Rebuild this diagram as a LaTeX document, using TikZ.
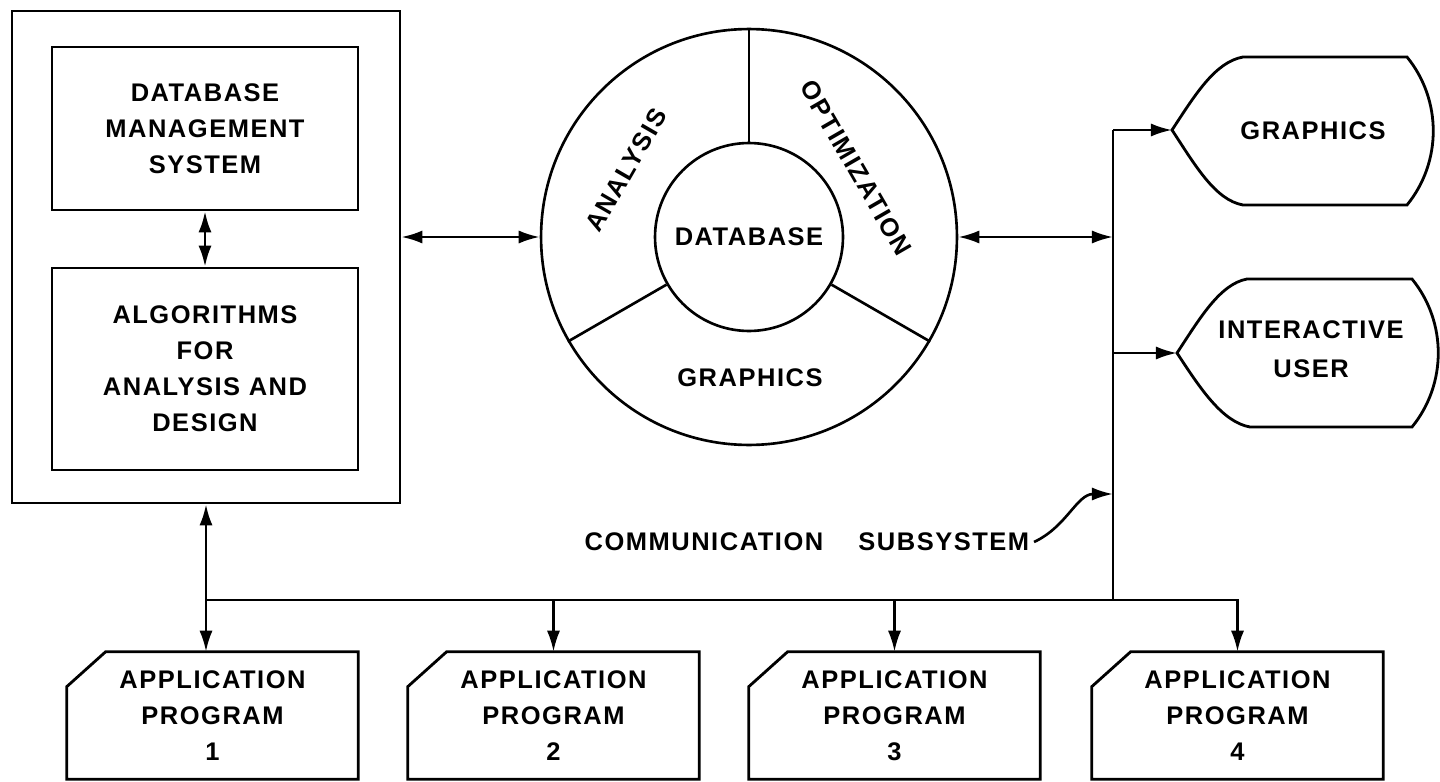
\documentclass[tikz,border=0pt]{standalone}
\usepackage{fontspec}
\setmainfont{Liberation Sans}[LetterSpace=6]
\usepackage{tikz}
\usetikzlibrary{arrows.meta}
\usetikzlibrary{shapes.misc}

\begin{document}
\begin{tikzpicture}[x = 0.02cm, y = -0.02cm, line width = 1.5pt,
    font = \fontsize{14.5pt}{20.5pt}\selectfont\bfseries,
    box/.style = {draw, line width = 1.6pt, align = center},
    app/.style = {minimum width = 5.78cm, minimum height = 2.5cm, align = center},
    one/.style = {-{Latex[length = 12pt, width = 7.5pt]}},
    dbl/.style = {{Latex[length = 12pt, width = 7.5pt]}-{Latex[length = 12pt, width = 7.5pt]}}]
\useasboundingbox (0, 0) rectangle (1440, 781);
% left block
\node[box, minimum width = 7.76cm, minimum height = 9.84cm] (frame) at (206, 257) {};
\node[box, minimum width = 6.12cm, minimum height = 3.26cm] (dbms) at (205, 128.5)
     {DATABASE\\MANAGEMENT\\SYSTEM};
\node[box, minimum width = 6.12cm, minimum height = 4.04cm] (alg) at (205, 369)
     {ALGORITHMS\\FOR\\ANALYSIS AND\\DESIGN};
\draw [dbl] (dbms) to (alg);
% ring
\node[draw, circle, minimum size = 8.32cm] (ring) at (749, 237) {};
\node[draw, circle, minimum size = 3.76cm] (core) at (749, 237) {DATABASE};
\draw (core.90) -- (ring.90);
\draw (core.210) -- (ring.210);
\draw (core.330) -- (ring.330);
\node[rotate = 60, inner sep = 0pt] (ana) at (626, 170) {ANALYSIS};
\node[rotate = -60, inner sep = 0pt] (opt) at (856, 168) {OPTIMIZATION};
\node (rgfx) at (750, 378) {GRAPHICS};
\draw [dbl] (ring.west -| frame.east) to (ring.west);
% displays
\draw [line width = 1.6pt] (1172, 130) .. controls (1195, 95) and (1215, 62) .. (1243, 57)
      -- (1407, 57) .. controls (1442, 100) and (1442, 162) .. (1407, 205)
      -- (1243, 205) .. controls (1215, 200) and (1195, 165) .. cycle;
\draw [line width = 1.6pt] (1177, 353) .. controls (1200, 318) and (1220, 284) .. (1247, 279)
      -- (1412, 279) .. controls (1447, 322) and (1447, 384) .. (1412, 427)
      -- (1250, 427) .. controls (1222, 422) and (1200, 388) .. cycle;
\node (gfx) at (1313, 131) {GRAPHICS};
\node[align = center] (user) at (1311, 349) {INTERACTIVE\\[2pt]USER};
\coordinate (gfxtip) at (1172, 130);
\coordinate (usertip) at (1177, 353);
% bus
\coordinate (bustop) at (1113, 130);
\coordinate (busbot) at (1113, 600);
\draw (bustop) -- (busbot);
\draw [dbl] (ring.east) to (ring.east -| bustop);
\draw [one] (bustop) to (gfxtip);
\draw [one] (usertip -| bustop) to (usertip);
% application programs
\node[app] (app1) at (212.5, 715.5) {APPLICATION\\PROGRAM\\1};
\node[app] (app2) at (553.5, 715.5) {APPLICATION\\PROGRAM\\2};
\node[app] (app3) at (894.5, 715.5) {APPLICATION\\PROGRAM\\3};
\node[app] (app4) at (1237.5, 715.5) {APPLICATION\\PROGRAM\\4};
\draw [line width = 1.6pt] ([xshift = 0.78cm]app1.north west) -- (app1.north east) -- (app1.south east)
      -- (app1.south west) -- ([yshift = -0.7cm]app1.north west) -- cycle;
\draw [line width = 1.6pt] ([xshift = 0.78cm]app2.north west) -- (app2.north east) -- (app2.south east)
      -- (app2.south west) -- ([yshift = -0.7cm]app2.north west) -- cycle;
\draw [line width = 1.6pt] ([xshift = 0.78cm]app3.north west) -- (app3.north east) -- (app3.south east)
      -- (app3.south west) -- ([yshift = -0.7cm]app3.north west) -- cycle;
\draw [line width = 1.6pt] ([xshift = 0.78cm]app4.north west) -- (app4.north east) -- (app4.south east)
      -- (app4.south west) -- ([yshift = -0.7cm]app4.north west) -- cycle;
\draw [dbl] (frame.south) to (frame.south |- app1.north);
\draw [one] (frame.south |- busbot) -- (busbot) -- (busbot -| app4.north) -- (app4.north);
\draw [one] (busbot -| app2.north) to (app2.north);
\draw [one] (busbot -| app3.north) to (app3.north);
% label of the bus
\node[anchor = east, inner sep = 2pt] (comm) at (1034, 542) {COMMUNICATION\hspace{20pt}SUBSYSTEM};
\coordinate (commend) at (1113, 494);
\draw [one] (comm.east) to[out = 25, in = 180] (commend);
\end{tikzpicture}
\end{document}
